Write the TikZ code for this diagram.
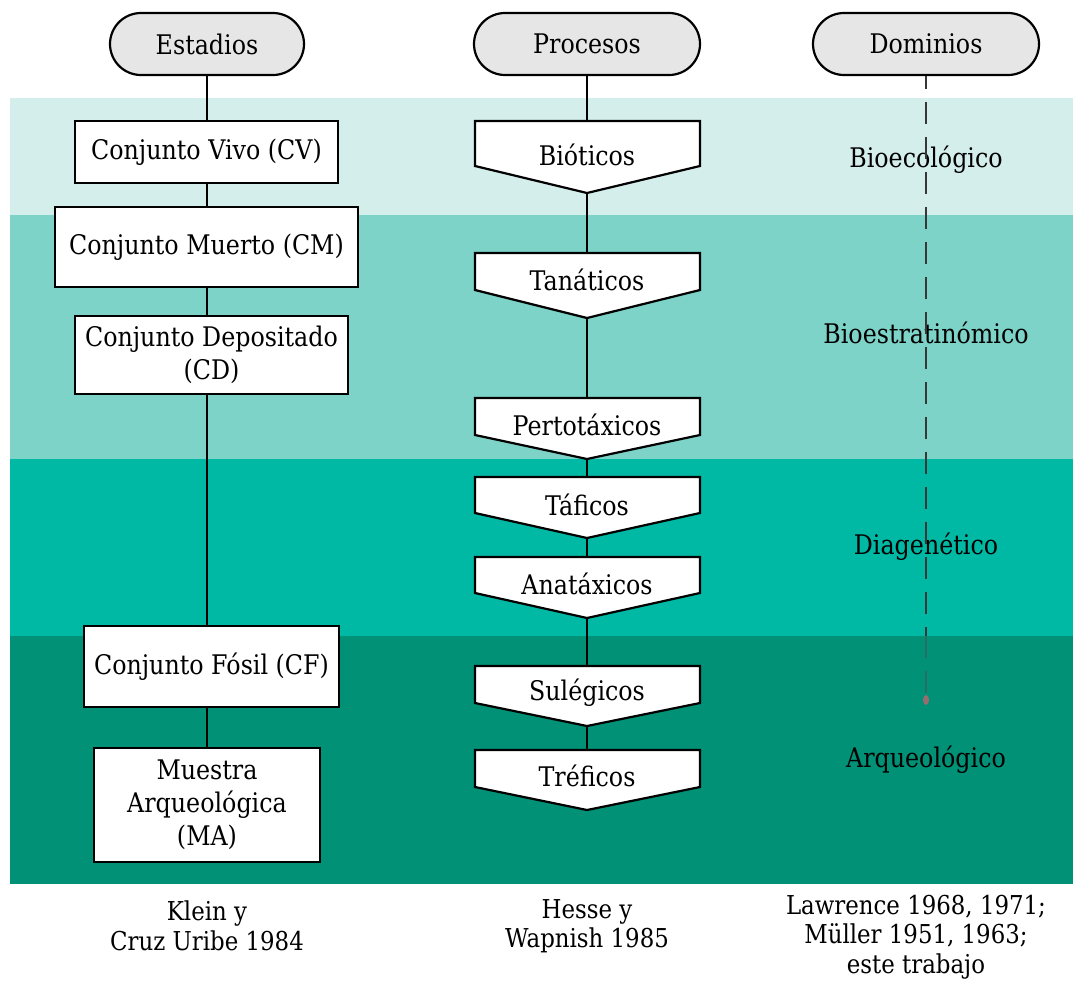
\documentclass[tikz,border=0pt]{standalone}
\usepackage{fontspec}
\setmainfont{DejaVu Serif}[FakeStretch=0.88]
\usetikzlibrary{shapes.misc}
\definecolor{bandA}{RGB}{212,238,236}
\definecolor{bandB}{RGB}{125,211,200}
\definecolor{bandC}{RGB}{0,185,165}
\definecolor{bandD}{RGB}{0,145,118}
\definecolor{capgray}{RGB}{230,230,230}
\definecolor{dashgray}{RGB}{55,55,55}
\definecolor{dashfade}{RGB}{40,110,100}
\definecolor{dotcol}{RGB}{150,110,110}
\newcommand{\procshape}[6]{%
  \draw[procstyle] (475,#2) -- (700,#2) -- (700,#3) -- (587,#4) -- (475,#3) -- cycle;
  \coordinate (#1t) at (587,#2);
  \coordinate (#1b) at (587,#4);
  \node[txt] (#1) at (587,#5) {#6};
}
\begin{document}
\begin{tikzpicture}[x=1pt,y=-1pt,
  txt/.style={font=\fontsize{27}{33}\selectfont, align=center, inner sep=0pt},
  reftxt/.style={font=\fontsize{26}{29.5}\selectfont, align=center, inner sep=0pt},
  capsule/.style={rounded rectangle, draw, line width=2.2pt, fill=capgray,
    minimum height=62pt, font=\fontsize{27}{30}\selectfont, inner sep=0pt},
  stagebox/.style={rectangle, draw, line width=2.2pt, fill=white,
    font=\fontsize{27}{33}\selectfont, align=center, inner sep=0pt},
  procstyle/.style={draw, line width=2.2pt, fill=white, line join=miter},
  conn/.style={line width=2.2pt},
  dashline/.style={line width=1.6pt, dash pattern=on 22pt off 13pt, dash phase=9pt}
]
\useasboundingbox (0,0) rectangle (1073,983);
\fill[white] (0,0) rectangle (1073,983);
% bands
\fill[bandA] (10,98) rectangle (1073,215);
\fill[bandB] (10,215) rectangle (1073,459);
\fill[bandC] (10,459) rectangle (1073,636);
\fill[bandD] (10,636) rectangle (1073,884);

% headers
\node[capsule, minimum width=194pt] (hE) at (207,44) {Estadios};
\node[capsule, minimum width=226pt] (hP) at (587,44) {Procesos};
\node[capsule, minimum width=226pt] (hD) at (926,44) {Dominios};

% domain labels
\node[txt] (dBio) at (926,160) {Bioecológico};
\node[txt] (dBst) at (926,333) {Bioestratinómico};
\node[txt] (dDia) at (926,547) {Diagenético};
\node[txt] (dArq) at (926,760) {Arqueológico};

% dashed domain line
\coordinate (dMid) at (926,636);
\coordinate (dEnd) at (926,700);
\draw[dashline, dashgray] (hD.south) -- (dMid);
\draw[dashline, dashfade, dash phase=0pt] (dMid) -- (dEnd);
\fill[dotcol] (dEnd) ellipse (3pt and 5pt);

% stages
\node[stagebox, minimum width=263pt, minimum height=62pt] (cv) at (206.5,152) {Conjunto Vivo (CV)};
\node[stagebox, minimum width=303pt, minimum height=80pt] (cm) at (206.5,247) {Conjunto Muerto (CM)};
\node[stagebox, minimum width=273pt, minimum height=78pt] (cd) at (211.5,355) {Conjunto Depositado\\(CD)};
\node[stagebox, minimum width=255pt, minimum height=81pt] (cf) at (211.5,666.5) {Conjunto Fósil (CF)};
\node[stagebox, minimum width=226pt, minimum height=114pt] (ma) at (207,805) {Muestra\\Arqueológica\\(MA)};

\draw[conn] (hE.south) -- (hE.south |- cv.north);
\draw[conn] (hE.south |- cv.south) -- (hE.south |- cm.north);
\draw[conn] (hE.south |- cm.south) -- (hE.south |- cd.north);
\draw[conn] (hE.south |- cd.south) -- (hE.south |- cf.north);
\draw[conn] (hE.south |- cf.south) -- (hE.south |- ma.north);

% processes
\procshape{pa}{121}{166}{193}{155}{Bióticos}
\procshape{pb}{253}{290}{318}{280}{Tanáticos}
\procshape{pc}{398}{435}{459}{425}{Pertotáxicos}
\procshape{pd}{477}{513}{538}{505}{Táficos}
\procshape{pe}{557}{593}{618}{584}{Anatáxicos}
\procshape{pf}{666}{703}{726}{693}{Sulégicos}
\procshape{pg}{750}{787}{810}{776}{Tréficos}

\draw[conn] (hP.south) -- (pat);
\draw[conn] (pab) -- (pbt);
\draw[conn] (pbb) -- (pct);
\draw[conn] (pcb) -- (pdt);
\draw[conn] (pdb) -- (pet);
\draw[conn] (peb) -- (pft);
\draw[conn] (pfb) -- (pgt);

% references
\node[reftxt] (rK) at (207,926) {Klein y\\Cruz Uribe 1984};
\node[reftxt] (rH) at (587,926) {Hesse y\\Wapnish 1985};
\node[reftxt] (rL) at (916,937) {Lawrence 1968, 1971;\\Müller 1951, 1963;\\este trabajo};
\end{tikzpicture}
\end{document}
